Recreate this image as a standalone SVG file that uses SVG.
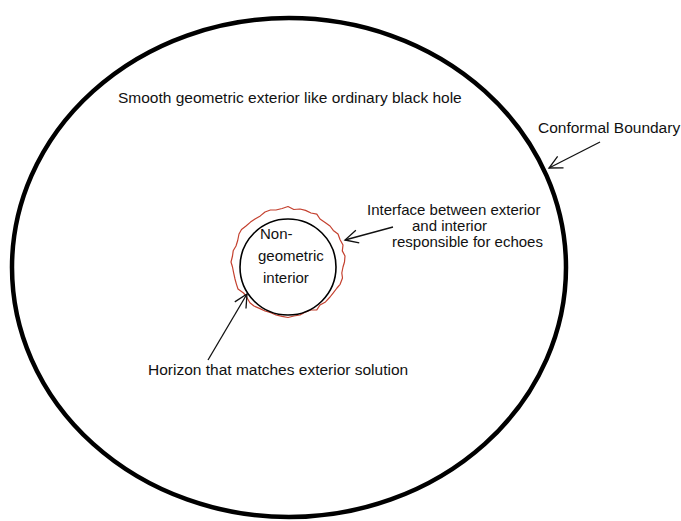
<svg xmlns="http://www.w3.org/2000/svg" width="681" height="521" viewBox="0 0 681 521">
<defs>
<style>
.lbl{font-family:"Liberation Sans",Arial,sans-serif;font-size:15.5px;fill:#111}
.lbl2{font-family:"Liberation Sans",Arial,sans-serif;font-size:15px;fill:#111}
.inner{font-family:"Liberation Sans",Arial,sans-serif;font-size:15px;fill:#111}
.conn{stroke:#111;stroke-width:1.3;fill:none;marker-end:url(#open)}
</style>
<marker id="open" markerUnits="userSpaceOnUse" viewBox="-15 -9 17 18" refX="0" refY="0" markerWidth="17" markerHeight="18" orient="auto">
<path d="M-13,-6.5 L0,0 L-13,6.5" fill="none" stroke="#111" stroke-width="1.3"/>
</marker>
</defs>
<rect width="681" height="521" fill="#fff"/>
<g id="boundary">
<ellipse cx="289" cy="267.5" rx="277" ry="249.5" fill="none" stroke="#000" stroke-width="4.5"/>
</g>
<g id="interface">
<path d="M344.5,262 L343,267 L341.8,273 L342.5,278 L340.1,284.3 L337,288 L332.9,293.3 L330,297 L325.5,301.9 L320,305 L316.8,309.8 L311,310 L305,312.2 L300,315 L293.9,316 L288,317.5 L282,316.4 L276,315 L270.9,312.7 L265,311 L260,308.6 L254,306 L249.9,302.7 L246,296 L243.5,293 L238,289 L236.4,284.1 L235,279 L233.7,273.1 L232.5,267 L231,262 L232.5,256 L233.2,250.8 L236,246 L237.7,240.5 L239,234 L241.5,229.5 L246,226 L250.5,222.1 L255,219 L260.3,215.9 L265,212 L270.4,210 L276,210 L282.1,208.5 L288,206.5 L293.8,209.5 L300,209 L305.5,210.4 L311,213 L316.8,214.2 L320,219 L325.1,222.4 L330,226 L333.3,230.4 L338,234 L340.1,239.7 L343,245 L342.3,250.9 L345,256 Z" fill="none" stroke="#c4412f" stroke-width="1.2" stroke-linejoin="round"/>
</g>
<g id="interior">
<circle cx="288" cy="267" r="48" fill="none" stroke="#000" stroke-width="1.6"/>
<text class="inner" x="260" y="239">Non-</text>
<text class="inner" x="258" y="261">geometric</text>
<text class="inner" x="263" y="283">interior</text>
</g>
<g id="exterior-label">
<text class="lbl" x="118" y="103">Smooth geometric exterior like ordinary black hole</text>
</g>
<g id="conformal-label">
<text class="lbl" x="538" y="133">Conformal Boundary</text>
</g>
<g id="interface-label">
<text class="lbl2" x="367" y="215">Interface between exterior</text>
<text class="lbl2" x="412" y="231">and interior</text>
<text class="lbl2" x="392" y="247">responsible for echoes</text>
</g>
<g id="horizon-label">
<text class="lbl" x="148" y="375">Horizon that matches exterior solution</text>
</g>
<g id="connectors">
<line class="conn" x1="600" y1="142" x2="549" y2="168"/>
<line class="conn" x1="393" y1="227" x2="345" y2="240"/>
<line class="conn" x1="208" y1="360" x2="247" y2="294"/>
</g>
</svg>
